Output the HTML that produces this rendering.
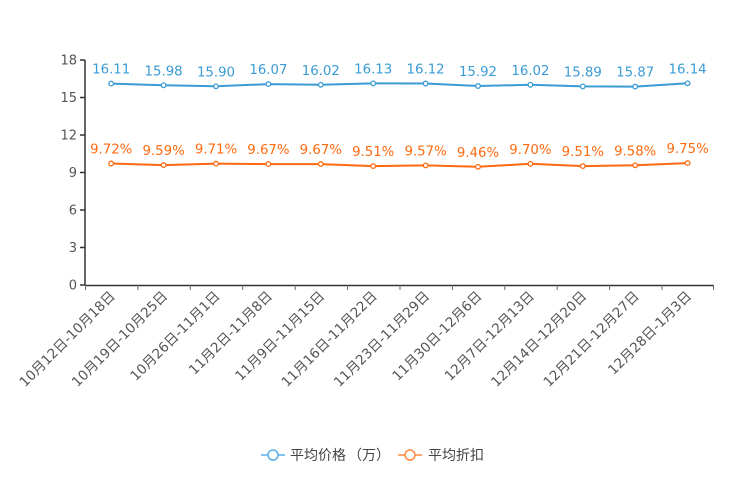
<!DOCTYPE html>
<html><head><meta charset="utf-8"><style>
html,body{margin:0;padding:0;background:#fff;}
svg{display:block;}
text{font-family:"DejaVu Sans","Noto Sans CJK SC",sans-serif;}
</style></head><body>
<svg width="744" height="496" viewBox="0 0 744 496" xmlns="http://www.w3.org/2000/svg">
<!-- y axis -->
<g stroke="#333" stroke-width="1.5" fill="none">
<line x1="85" y1="60" x2="85" y2="285.5"/>
<line x1="85" y1="285.5" x2="714" y2="285.5"/>
<line x1="80" y1="60" x2="85" y2="60"/>
<line x1="80" y1="97.5" x2="85" y2="97.5"/>
<line x1="80" y1="135" x2="85" y2="135"/>
<line x1="80" y1="172.5" x2="85" y2="172.5"/>
<line x1="80" y1="210" x2="85" y2="210"/>
<line x1="80" y1="247.5" x2="85" y2="247.5"/>
<line x1="80" y1="285" x2="85" y2="285"/>
</g>
<g stroke="#666" stroke-width="1">
<line x1="85.5" y1="285" x2="85.5" y2="290"/>
<line x1="137.9" y1="285" x2="137.9" y2="290"/>
<line x1="190.3" y1="285" x2="190.3" y2="290"/>
<line x1="242.7" y1="285" x2="242.7" y2="290"/>
<line x1="295.2" y1="285" x2="295.2" y2="290"/>
<line x1="347.6" y1="285" x2="347.6" y2="290"/>
<line x1="400" y1="285" x2="400" y2="290"/>
<line x1="452.4" y1="285" x2="452.4" y2="290"/>
<line x1="504.8" y1="285" x2="504.8" y2="290"/>
<line x1="557.2" y1="285" x2="557.2" y2="290"/>
<line x1="609.6" y1="285" x2="609.6" y2="290"/>
<line x1="662" y1="285" x2="662" y2="290"/>
<line x1="713.5" y1="285" x2="713.5" y2="290"/>
</g>
<g fill="#555" font-size="13" text-anchor="end">
<text x="77" y="64.5">18</text>
<text x="77" y="102">15</text>
<text x="77" y="139.5">12</text>
<text x="77" y="177">9</text>
<text x="77" y="214.5">6</text>
<text x="77" y="252">3</text>
<text x="77" y="289.5">0</text>
</g>
<!-- x labels -->
<g fill="#555" font-size="13.6" text-anchor="end" dominant-baseline="central">
<text transform="translate(113,294) rotate(-45)">10月12日-10月18日</text>
<text transform="translate(165.4,294) rotate(-45)">10月19日-10月25日</text>
<text transform="translate(217.8,294) rotate(-45)">10月26日-11月1日</text>
<text transform="translate(270.2,294) rotate(-45)">11月2日-11月8日</text>
<text transform="translate(322.6,294) rotate(-45)">11月9日-11月15日</text>
<text transform="translate(375,294) rotate(-45)">11月16日-11月22日</text>
<text transform="translate(427.4,294) rotate(-45)">11月23日-11月29日</text>
<text transform="translate(479.8,294) rotate(-45)">11月30日-12月6日</text>
<text transform="translate(532.2,294) rotate(-45)">12月7日-12月13日</text>
<text transform="translate(584.6,294) rotate(-45)">12月14日-12月20日</text>
<text transform="translate(637,294) rotate(-45)">12月21日-12月27日</text>
<text transform="translate(689.4,294) rotate(-45)">12月28日-1月3日</text>
</g>
<!-- blue series -->
<polyline fill="none" stroke="#3a9bd5" stroke-width="2" points="111.2,83.6 163.6,85.3 216,86.3 268.4,84.1 320.8,84.8 373.2,83.4 425.6,83.5 478,86 530.4,84.8 582.8,86.4 635.2,86.6 687.6,83.3"/>
<g fill="#fff" stroke="#3a9bd5" stroke-width="1.3">
<circle cx="111.2" cy="83.6" r="2.3"/><circle cx="163.6" cy="85.3" r="2.3"/><circle cx="216" cy="86.3" r="2.3"/><circle cx="268.4" cy="84.1" r="2.3"/><circle cx="320.8" cy="84.8" r="2.3"/><circle cx="373.2" cy="83.4" r="2.3"/><circle cx="425.6" cy="83.5" r="2.3"/><circle cx="478" cy="86" r="2.3"/><circle cx="530.4" cy="84.8" r="2.3"/><circle cx="582.8" cy="86.4" r="2.3"/><circle cx="635.2" cy="86.6" r="2.3"/><circle cx="687.6" cy="83.3" r="2.3"/>
</g>
<g fill="#3a9bd5" font-size="13.3" text-anchor="middle">
<text x="111.2" y="73.6">16.11</text><text x="163.6" y="75.3">15.98</text><text x="216" y="76.3">15.90</text><text x="268.4" y="74.1">16.07</text><text x="320.8" y="74.8">16.02</text><text x="373.2" y="73.4">16.13</text><text x="425.6" y="73.5">16.12</text><text x="478" y="76">15.92</text><text x="530.4" y="74.8">16.02</text><text x="582.8" y="76.4">15.89</text><text x="635.2" y="76.6">15.87</text><text x="687.6" y="73.3">16.14</text>
</g>
<!-- orange series -->
<polyline fill="none" stroke="#ff6a10" stroke-width="2" points="111.2,163.5 163.6,165.1 216,163.6 268.4,164.1 320.8,164.1 373.2,166.1 425.6,165.4 478,166.8 530.4,163.8 582.8,166.1 635.2,165.3 687.6,163.1"/>
<g fill="#fff" stroke="#ff6a10" stroke-width="1.3">
<circle cx="111.2" cy="163.5" r="2.3"/><circle cx="163.6" cy="165.1" r="2.3"/><circle cx="216" cy="163.6" r="2.3"/><circle cx="268.4" cy="164.1" r="2.3"/><circle cx="320.8" cy="164.1" r="2.3"/><circle cx="373.2" cy="166.1" r="2.3"/><circle cx="425.6" cy="165.4" r="2.3"/><circle cx="478" cy="166.8" r="2.3"/><circle cx="530.4" cy="163.8" r="2.3"/><circle cx="582.8" cy="166.1" r="2.3"/><circle cx="635.2" cy="165.3" r="2.3"/><circle cx="687.6" cy="163.1" r="2.3"/>
</g>
<g fill="#ff6a10" font-size="13.3" text-anchor="middle">
<text x="111.2" y="153.5">9.72%</text><text x="163.6" y="155.1">9.59%</text><text x="216" y="153.6">9.71%</text><text x="268.4" y="154.1">9.67%</text><text x="320.8" y="154.1">9.67%</text><text x="373.2" y="156.1">9.51%</text><text x="425.6" y="155.4">9.57%</text><text x="478" y="156.8">9.46%</text><text x="530.4" y="153.8">9.70%</text><text x="582.8" y="156.1">9.51%</text><text x="635.2" y="155.3">9.58%</text><text x="687.6" y="153.1">9.75%</text>
</g>
<!-- legend -->
<g stroke-width="1.5" fill="#fff">
<line x1="261" y1="455" x2="285" y2="455" stroke="#5aaee6"/>
<circle cx="273" cy="455" r="5" stroke="#5aaee6"/>
<line x1="398" y1="455" x2="422" y2="455" stroke="#ff8a40"/>
<circle cx="410" cy="455" r="5" stroke="#ff8a40"/>
</g>
<g fill="#444" font-size="14">
<text x="290" y="460">平均价格<tspan dx="2">（万）</tspan></text>
<text x="428" y="460">平均折扣</text>
</g>
</svg>
</body></html>
